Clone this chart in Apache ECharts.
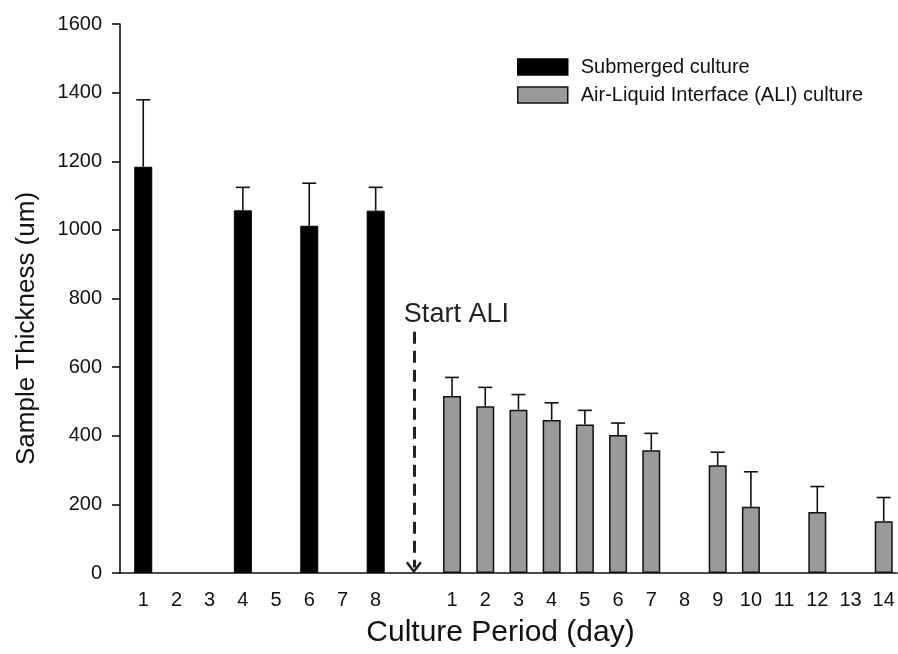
<!DOCTYPE html>
<html>
<head>
<meta charset="utf-8">
<script src="https://cdn.jsdelivr.net/npm/echarts@6/dist/echarts.min.js"></script>
<style>html,body{margin:0;padding:0;background:#fff}#chart{width:898px;height:654px}</style>
</head>
<body>
<div id="chart"></div>
<script>
// ---- data ----
var subDays = [1, 2, 3, 4, 5, 6, 7, 8];            // tick labels, submerged period
var aliDays = [1, 2, 3, 4, 5, 6, 7, 8, 9, 10, 11, 12, 13, 14]; // tick labels, ALI period
var subMeasuredDays = [1, 4, 6, 8];
var subMean = [1184, 1057, 1012, 1056];
var subSD = [195, 67, 124, 68];
var aliMeasuredDays = [1, 2, 3, 4, 5, 6, 7, 9, 10, 12, 14];
var aliMean = [516, 486, 476, 446, 433, 402, 358, 314, 193, 178, 151];
var aliSD = [54, 55, 44, 50, 41, 35, 49, 38, 102, 74, 69];
var yTicks = [0, 200, 400, 600, 800, 1000, 1200, 1400, 1600];

// layout of the broken day axis: ALI days shifted after a gap
var aliOffset = 9.3;
var startMark = (subDays[subDays.length - 1] + aliDays[0] + aliOffset) / 2;

var FONT = "'Liberation Sans', Arial, sans-serif";
var subPos = subDays.map(function (d) { return d; });
var aliPos = aliDays.map(function (d) { return d + aliOffset; });
var tickPos = subPos.concat(aliPos);
var tickLab = subDays.map(String).concat(aliDays.map(String));

var subData = subMeasuredDays.map(function (d, i) { return [d, subMean[i], subMean[i] + subSD[i]]; });
var aliData = aliMeasuredDays.map(function (d, i) { return [d + aliOffset, aliMean[i], aliMean[i] + aliSD[i]]; });

function errRender(params, api) {
  var x = api.value(0), m = api.value(1), up = api.value(2);
  var b = api.coord([x, m]);
  var t = api.coord([x, up]);
  var st = { stroke: '#111', lineWidth: 1.6 };
  return {
    type: 'group',
    children: [
      { type: 'line', shape: { x1: b[0], y1: b[1], x2: t[0], y2: t[1] }, style: st },
      { type: 'line', shape: { x1: t[0] - 7, y1: t[1], x2: t[0] + 7, y2: t[1] }, style: st }
    ]
  };
}

var chart = echarts.init(document.getElementById('chart'), null, { renderer: 'canvas' });
chart.setOption({
  backgroundColor: '#fff',
  animation: false,
  textStyle: { fontFamily: FONT },
  grid: { left: 120, right: 1, top: 24, bottom: 81, containLabel: false },
  legend: {
    orient: 'vertical', left: 517, top: 57, padding: 0, itemWidth: 50, itemHeight: 16, itemGap: 8,
    icon: 'rect',
    textStyle: { fontSize: 20, color: '#111', fontFamily: FONT, padding: [0, 0, 0, 8] },
    data: [
      { name: 'Submerged culture', itemStyle: { color: '#000', borderColor: '#000', borderWidth: 1.5 } },
      { name: 'Air-Liquid Interface (ALI) culture', itemStyle: { color: '#9a9a9a', borderColor: '#111', borderWidth: 1.5 } }
    ]
  },
  xAxis: {
    type: 'value', min: 0.3, max: 23.7,
    name: 'Culture Period (day)', nameLocation: 'middle', nameGap: 45,
    nameTextStyle: { fontSize: 30, color: '#111', fontFamily: FONT, padding: [0, 16, 0, 0] },
    axisLine: { show: true, onZero: false, lineStyle: { color: '#111', width: 1.6 } },
    axisTick: { show: false },
    splitLine: { show: false },
    axisLabel: {
      customValues: tickPos, margin: 17, fontSize: 20, color: '#111', fontFamily: FONT,
      formatter: function (v) {
        for (var i = 0; i < tickPos.length; i++) if (Math.abs(tickPos[i] - v) < 1e-6) return tickLab[i];
        return '';
      }
    }
  },
  yAxis: {
    type: 'value', min: 0, max: 1600, interval: 200,
    name: 'Sample Thickness (um)', nameLocation: 'middle', nameGap: 80, nameRotate: 90,
    nameTextStyle: { fontSize: 26, color: '#111', fontFamily: FONT, padding: [0, 60, 0, 0] },
    axisLine: { show: true, lineStyle: { color: '#111', width: 1.6 } },
    axisTick: { show: true, inside: false, length: 8, lineStyle: { color: '#111', width: 1.6 } },
    splitLine: { show: false },
    axisLabel: { margin: 18, fontSize: 20, color: '#111', fontFamily: FONT,
      formatter: function (v) { return String(v); } }
  },
  series: [
    {
      name: 'Submerged culture', type: 'bar', barWidth: 18, barGap: '-100%',
      itemStyle: { color: '#000', borderColor: '#000', borderWidth: 1 },
      data: subData.map(function (d) { return [d[0], d[1]]; }),
      markLine: {
        silent: true,
        symbol: ['none', 'path://M0,10 L8,0 L16,10 L14,11.5 L8,3.8 L2,11.5 Z'],
        symbolSize: [16, 12],
        lineStyle: { type: [12, 7], width: 3, color: '#222' },
        label: {
          show: true, position: 'start', formatter: 'Start ALI', fontSize: 27, color: '#222',
          fontFamily: FONT, distance: 4, align: 'left', offset: [-10, 0]
        },
        data: [[{ coord: [startMark, 703] }, { coord: [startMark, 16] }]]
      }
    },
    {
      name: 'Air-Liquid Interface (ALI) culture', type: 'bar', barWidth: 18, barGap: '-100%',
      itemStyle: { color: '#9a9a9a', borderColor: '#111', borderWidth: 1.5 },
      data: aliData.map(function (d) { return [d[0], d[1]]; })
    },
    { type: 'custom', name: 'subErr', renderItem: errRender, data: subData, z: 3, silent: true },
    { type: 'custom', name: 'aliErr', renderItem: errRender, data: aliData, z: 3, silent: true }
  ]
});
</script>
</body>
</html>
